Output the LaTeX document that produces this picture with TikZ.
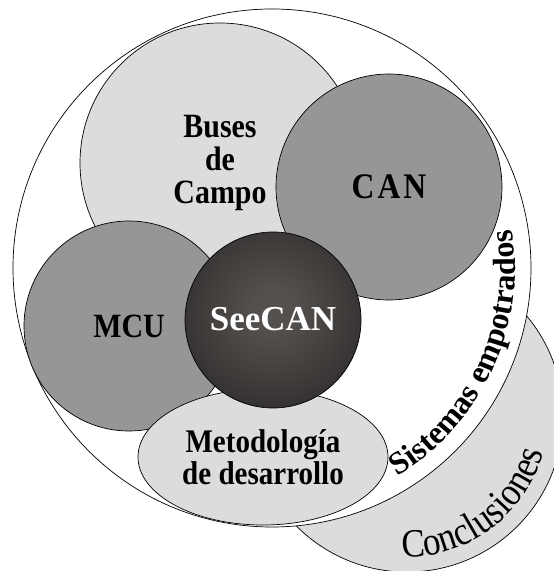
\documentclass[tikz,border=0pt]{standalone}
\usepackage{fontspec}
\setmainfont{Liberation Serif}
\newfontfamily\narrowfont[FakeStretch=0.88]{Liberation Serif}
\usepackage{xcolor}
\usepackage{tikz}
\usetikzlibrary{shapes.geometric,decorations.text}
\definecolor{lightfill}{RGB}{220,220,220}
\definecolor{midfill}{RGB}{150,150,150}
\definecolor{glowin}{RGB}{84,80,78}
\definecolor{glowmid}{RGB}{48,46,45}
\definecolor{glowout}{RGB}{28,26,25}
\pgfdeclareradialshading{seeglow}{\pgfpoint{0bp}{3bp}}{color(0bp)=(glowin); color(6bp)=(glowin); color(30bp)=(glowmid); color(50bp)=(glowout); color(80bp)=(glowout)}
\newcommand{\sistfont}{\bfseries\fontsize{32}{32}\selectfont}
\newcommand{\conclfont}{\narrowfont\fontsize{40}{40}\selectfont}
\tikzset{
  bubble/.style={circle, draw, line width=0.7pt, inner sep=0pt, align=center,
    font=\narrowfont\bfseries\fontsize{34}{33}\selectfont},
  lightbubble/.style={bubble, fill=lightfill},
  midbubble/.style={bubble, fill=midfill},
  seeball/.style={bubble, shade, shading=seeglow, text=white,
    font=\bfseries\fontsize{35}{35}\selectfont},
  oval/.style={ellipse, draw, line width=0.7pt, inner sep=0pt, align=center,
    fill=lightfill, font=\narrowfont\bfseries\fontsize{33}{32}\selectfont}
}

\begin{document}
\begin{tikzpicture}[x=1pt, y=1pt]
  \useasboundingbox (0,0) rectangle (554,571);
  \clip (0,0) rectangle (554,571);
  \node[bubble, fill=lightfill, font=\normalfont, minimum size=312pt] (concl) at (407,155) {};
  \node[bubble, fill=white, font=\normalfont, minimum size=518pt] (emb) at (272,303) {};
  \node[lightbubble, minimum size=280pt] (buses) at (220,408) {Buses\\de\\Campo};
  \node[midbubble, minimum size=226pt, font=\narrowfont\bfseries\fontsize{36}{36}\selectfont] (can) at (389,384) {C\kern3pt A\kern3pt N};
  \node[midbubble, minimum size=210pt] (mcu) at (129,245) {MCU};
  \node[oval, minimum width=250pt, minimum height=136pt] (metod) at (263,114) {Metodología\\de desarrollo};
  \node[seeball, minimum size=176pt] (see) at (273,251) {\raisebox{3pt}{SeeCAN}};
  \path[decorate, decoration={text along path, text={|\sistfont|Sistemas empotrados}}]
    ([shift={(-59:243)}]emb.center) arc[start angle=-59, end angle=25, radius=243];
  \path[decorate, decoration={text along path, text={|\conclfont|Conclusiones}}]
    ([shift={(-92:141)}]concl.center) arc[start angle=-92, end angle=10, radius=141];
\end{tikzpicture}
\end{document}
